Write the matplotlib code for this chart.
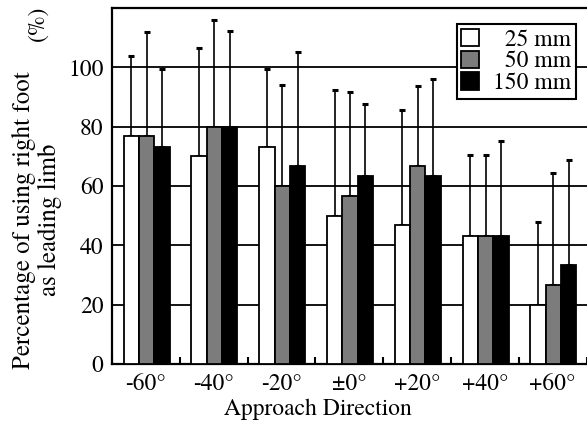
import matplotlib
matplotlib.use('Agg')
import matplotlib.pyplot as plt
import numpy as np

plt.rcParams['font.family'] = ['TeX Gyre Termes', 'STIXGeneral']

directions = ['-60°', '-40°', '-20°', '±0°', '+20°', '+40°', '+60°']
series_names = ['  25 mm', '  50 mm', '150 mm']
colors = ['white', '#7c7c7c', 'black']

# mean percentages
mean_25 = [76.7, 70.0, 73.3, 50.0, 46.7, 43.3, 20.0]
mean_50 = [76.7, 80.0, 60.0, 56.7, 66.7, 43.3, 26.7]
mean_150 = [73.3, 80.0, 66.7, 63.3, 63.3, 43.3, 33.3]
# upper error (SD)
sd_25 = [27.2, 36.6, 26.2, 42.2, 38.9, 27.3, 28.0]
sd_50 = [35.3, 36.0, 34.2, 35.1, 27.1, 27.3, 37.7]
sd_150 = [26.2, 32.4, 38.4, 24.4, 32.9, 31.7, 35.4]

means = [mean_25, mean_50, mean_150]
sds = [sd_25, sd_50, sd_150]

fig = plt.figure(figsize=(5.87, 4.23), dpi=100)
ax = fig.add_axes([112/587, 1 - 364/423, 474.6/587, (364 - 8)/423])

x = np.arange(len(directions))
width = 0.226
offsets = [-width, 0, width]

for i in range(3):
    ax.bar(x + offsets[i] + 0.01, means[i], width, color=colors[i],
           edgecolor='black', linewidth=1.3, label=series_names[i], zorder=3)
    ax.errorbar(x + offsets[i] + 0.01, means[i],
                yerr=[np.zeros(len(x)), sds[i]], fmt='none',
                ecolor='black', elinewidth=1.2, capsize=2.5, capthick=2.2,
                zorder=2)

ax.set_xlim(-0.5, 6.5)
ax.set_ylim(0, 120)
ax.set_yticks([0, 20, 40, 60, 80, 100])
ax.yaxis.grid(True, color='black', linewidth=1.3, zorder=0)
ax.set_axisbelow(True)
ax.tick_params(axis='y', length=0, labelsize=17, pad=6)

ax.set_xticks(x)
ax.set_xticklabels(directions)
ax.set_xticks(np.arange(-0.5, 7.0, 1.0), minor=True)
ax.tick_params(axis='x', which='major', length=0, labelsize=17, pad=7)
ax.tick_params(axis='x', which='minor', direction='in', length=5, width=1.5)

for s in ['left', 'top', 'bottom']:
    ax.spines[s].set_linewidth(1.6)
ax.spines['right'].set_visible(False)

fig.text(318/587, 1 - 415/423, 'Approach Direction', ha='center', va='baseline',
         fontsize=17)
fig.text(37/587, 1 - 220/423, 'Percentage of using right foot\nas leading limb',
         rotation=90, ha='center', va='center', fontsize=18, linespacing=1.1)
fig.text(38/587, 1 - 23/423, '(%)', rotation=90, ha='center', va='center',
         fontsize=17)

leg = ax.legend(loc='upper right', bbox_to_anchor=(576/587, 1 - 24/423),
                bbox_transform=fig.transFigure, fontsize=17, frameon=True,
                fancybox=False, framealpha=1, edgecolor='black',
                handlelength=0.75, handleheight=0.75, handletextpad=0.6,
                borderpad=0.2, labelspacing=0.0, borderaxespad=0)
leg.get_frame().set_linewidth(1.5)
leg.set_zorder(5)

fig.savefig('out.png', dpi=100)
